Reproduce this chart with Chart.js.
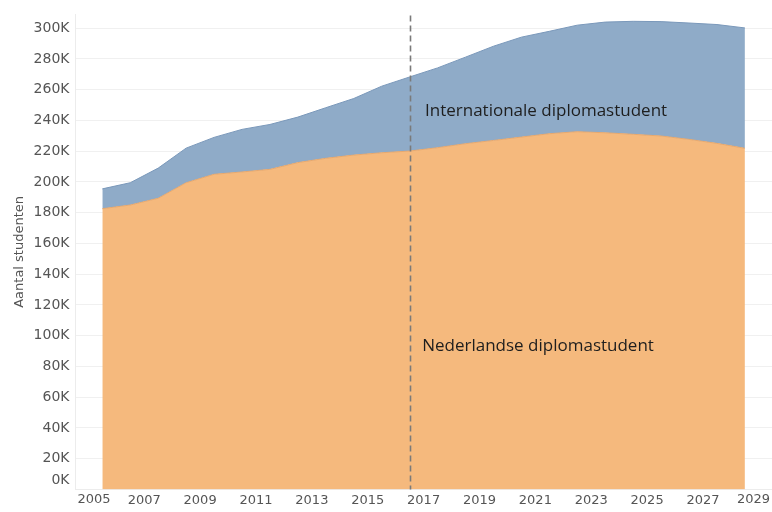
<!DOCTYPE html>
<html>
<head>
<meta charset="utf-8">
<script src="https://cdn.jsdelivr.net/npm/chart.js@4/dist/chart.umd.min.js"></script>
<style>
  html, body { margin: 0; padding: 0; background: #fff; }
  #wrap { width: 772px; height: 512px; }
</style>
</head>
<body>
<div id="wrap"><canvas id="myChart"></canvas></div>
<script>
// Academic years (points sit in the middle of each year)
const years = [2005, 2006, 2007, 2008, 2009, 2010, 2011, 2012, 2013, 2014, 2015, 2016,
               2017, 2018, 2019, 2020, 2021, 2022, 2023, 2024, 2025, 2026, 2027, 2028];

// Dutch degree students
const nederlands = [182600, 185000, 189400, 199500, 205000, 206500, 208200, 212600,
                    215400, 217500, 219000, 220100, 222300, 224900, 227000, 229200,
                    231400, 232700, 232000, 231000, 229900, 227700, 225100, 221900];

// International degree students (stacked on top)
const internationaal = [12900, 14500, 19600, 22500, 24000, 27700, 29200, 29600,
                        32900, 36800, 43300, 48200, 51900, 56300, 61300, 65000,
                        66600, 69300, 72000, 73500, 74400, 75700, 77300, 78300];

const xTicks = [2005, 2007, 2009, 2011, 2013, 2015, 2017, 2019, 2021, 2023, 2025, 2027, 2029];
const yTicks = [0, 20000, 40000, 60000, 80000, 100000, 120000, 140000, 160000, 180000,
                200000, 220000, 240000, 260000, 280000, 300000];

const forecastStart = 2016.5; // dashed reference line

const yFont = { family: '"DejaVu Sans", sans-serif', size: 14 };
const xFont = { family: '"DejaVu Sans", sans-serif', size: 13 };
const isEdgeYear = v => v === xTicks[0] || v === xTicks[xTicks.length - 1];

// dashed line, area labels, and the edge tick labels pushed inside the axis
const extras = {
    id: 'extras',
    afterDatasetsDraw(chart) {
        const {ctx, chartArea, scales} = chart;
        const x = scales.x, y = scales.y;
        ctx.save();
        // reference line
        ctx.strokeStyle = '#7a7a7a';
        ctx.lineWidth = 1.6;
        ctx.setLineDash([6, 4]);
        const px = Math.round(x.getPixelForValue(forecastStart)) + 0.5;
        ctx.beginPath();
        ctx.moveTo(px, chartArea.top + 1);
        ctx.lineTo(px, chartArea.bottom);
        ctx.stroke();
        ctx.setLineDash([]);

        // series labels
        ctx.fillStyle = '#1e1e1e';
        ctx.font = '17px "Open Sans", sans-serif';
        ctx.textAlign = 'left';
        ctx.textBaseline = 'middle';
        ctx.fillText('Internationale diplomastudent', x.getPixelForValue(2017.05), y.getPixelForValue(246000));
        ctx.fillText('Nederlandse diplomastudent', x.getPixelForValue(2016.95), y.getPixelForValue(93500));

        // 0K label sits a bit above the baseline
        ctx.fillStyle = '#555';
        ctx.font = yFont.size + 'px ' + yFont.family;
        ctx.textAlign = 'right';
        ctx.fillText('0K', y.right - 6, y.getPixelForValue(0) - 9);

        // first / last year labels kept inside the plot width
        ctx.font = xFont.size + 'px ' + xFont.family;
        ctx.textBaseline = 'top';
        const ly = chartArea.bottom + 4;
        const first = String(xTicks[0]);
        const last = String(xTicks[xTicks.length - 1]);
        ctx.textAlign = 'left';
        ctx.fillText(first, Math.max(chartArea.left + 2, x.getPixelForValue(xTicks[0]) - ctx.measureText(first).width / 2), ly);
        ctx.textAlign = 'right';
        ctx.fillText(last, Math.min(chartArea.right - 2, x.getPixelForValue(xTicks[xTicks.length - 1]) + ctx.measureText(last).width / 2), ly);
        ctx.restore();
    }
};

const ctx = document.getElementById('myChart').getContext('2d');

const myChart = new Chart(ctx, {
    type: 'line',
    data: {
        datasets: [{
            label: 'Nederlandse diplomastudent',
            data: years.map((yr, i) => ({x: yr + 0.5, y: nederlands[i]})),
            backgroundColor: 'rgb(245, 185, 125)',
            borderColor: 'rgb(230, 168, 110)',
            borderWidth: 1,
            fill: 'origin',
            pointRadius: 0,
            tension: 0
        }, {
            label: 'Internationale diplomastudent',
            data: years.map((yr, i) => ({x: yr + 0.5, y: internationaal[i]})),
            backgroundColor: 'rgb(143, 171, 200)',
            borderColor: 'rgb(122, 152, 186)',
            borderWidth: 1,
            fill: '-1',
            pointRadius: 0,
            tension: 0
        }]
    },
    options: {
        responsive: true,
        maintainAspectRatio: false,
        animation: false,
        layout: { padding: { left: 8, right: 0, top: 11, bottom: 1 } },
        plugins: {
            legend: { display: false },
            tooltip: { enabled: false }
        },
        scales: {
            x: {
                type: 'linear',
                min: 2004.54,
                max: 2029.47,
                afterBuildTicks: s => { s.ticks = xTicks.map(v => ({value: v})); },
                ticks: {
                    color: '#555',
                    font: xFont,
                    padding: 3,
                    maxRotation: 0,
                    autoSkip: false,
                    callback: v => isEdgeYear(v) ? '' : String(v)
                },
                grid: { display: false, drawTicks: false },
                border: { display: true, color: '#ececec' }
            },
            y: {
                stacked: true,
                min: 0,
                max: 309000,
                afterBuildTicks: s => { s.ticks = yTicks.map(v => ({value: v})); },
                ticks: {
                    color: '#555',
                    font: yFont,
                    padding: 6,
                    autoSkip: false,
                    callback: v => v === 0 ? '' : (v / 1000) + 'K'
                },
                grid: { color: '#f0f0f0', drawTicks: false },
                border: { display: true, color: '#ececec' },
                title: {
                    display: true,
                    text: 'Aantal studenten',
                    color: '#555',
                    font: { family: '"DejaVu Sans", sans-serif', size: 13 },
                    padding: { top: 4, bottom: 0 }
                }
            }
        }
    },
    plugins: [extras]
});
</script>
</body>
</html>
